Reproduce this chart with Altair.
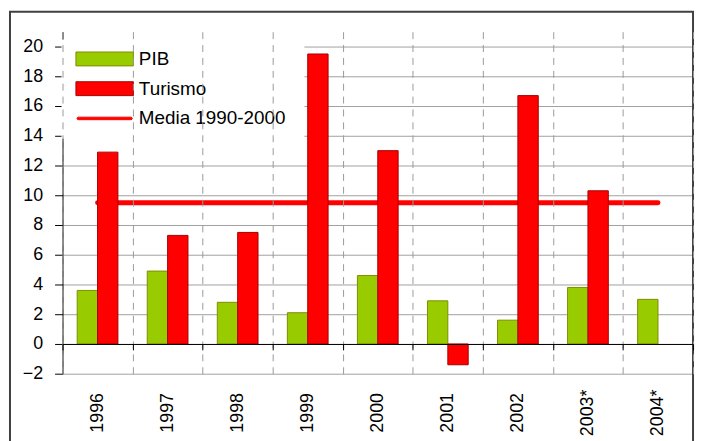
import altair as alt
import pandas as pd

years = ["1996", "1997", "1998", "1999", "2000", "2001", "2002", "2003*", "2004*"]
pib = [3.6, 4.9, 2.8, 2.1, 4.6, 2.9, 1.6, 3.8, 3.0]
turismo = [12.9, 7.3, 7.5, 19.5, 13.0, -1.4, 16.7, 10.3, None]
media = 9.5
series = ["PIB", "Turismo", "Media 1990-2000"]
fill_colors = ["#99CC00", "#FF0000", "#FF0000"]
border_colors = ["#7F8C00", "#A60000", "#FF0000"]
y_ticks = list(range(-2, 21, 2))

rows = []
for i, yr in enumerate(years):
    rows.append({"year": yr, "serie": series[0], "value": pib[i]})
    if turismo[i] is not None:
        rows.append({"year": yr, "serie": series[1], "value": turismo[i]})
bars_df = pd.DataFrame(rows)
line_df = pd.DataFrame({"year": years, "serie": series[2], "value": [media] * len(years)})

FONT = "Liberation Sans"

x_axis = alt.Axis(
    tickBand="extent", grid=True, gridColor="#9a9a9a", gridDash=[7, 6], gridWidth=1,
    domainColor="black", domainWidth=1, tickColor="black", tickSize=6, tickWidth=1,
    offset=-30, labelAngle=270, labelAlign="center", labelBaseline="middle",
    labelPadding=63, labelFontSize=18, labelFont=FONT, labelColor="black",
    labelOverlap=False, labelFlush=False, zindex=1,
)
y_axis = alt.Axis(
    values=y_ticks, grid=True, gridColor="#a0a0a0", gridWidth=1,
    domainColor="black", domainWidth=1, tickColor="black", tickSize=8, tickWidth=1,
    labelPadding=12, labelFontSize=18, labelFont=FONT, labelColor="black",
)

x_scale = alt.Scale(domain=years, paddingInner=0, paddingOuter=0)
y_scale = alt.Scale(domain=[-2, 21], nice=False, zero=False)

# legend symbol shapes: wide boxes for the bars, a rounded thick stroke for the mean line
box = "M-4.14,-1H4.14V1H-4.14Z"
pill = "M-3.8,-0.18H3.8A0.18,0.18 0 0 1 3.8,0.18H-3.8A0.18,0.18 0 0 1 -3.8,-0.18Z"
shapes = [box, box, pill]

# invisible title on the right only widens the white legend box
legend = alt.Legend(
    title="I", titleOrient="right", titleOpacity=0, titleFontSize=10, titlePadding=6,
    orient="none", legendX=-1, legendY=8, fillColor="white", padding=10,
    symbolSize=196, symbolOffset=24, labelOffset=25, rowPadding=10, symbolStrokeWidth=1,
    labelFontSize=19, labelFont=FONT, labelColor="black", labelLimit=400,
)

line = alt.Chart(line_df).mark_line(strokeWidth=5, strokeCap="round", color=fill_colors[2]).encode(
    x=alt.X("year:N", sort=years, title=None, scale=x_scale, axis=x_axis),
    y=alt.Y("value:Q", title=None, scale=y_scale, axis=y_axis),
)

is_pib = alt.datum.serie == series[0]
bars = alt.Chart(bars_df).mark_bar(strokeWidth=1).encode(
    x=alt.X("year:N", sort=years, title=None, scale=x_scale, axis=x_axis),
    xOffset=alt.XOffset("serie:N", scale=alt.Scale(domain=series[:2], paddingInner=0, paddingOuter=0.72)),
    y=alt.Y("value:Q", title=None, scale=y_scale, axis=y_axis),
    color=alt.condition(is_pib, alt.value(fill_colors[0]), alt.value(fill_colors[1])),
    stroke=alt.condition(is_pib, alt.value(border_colors[0]), alt.value(border_colors[1])),
)

# legend carrier: no rows, only scales for fill / stroke / shape
legend_layer = alt.Chart(alt.Data(values=[])).mark_point(filled=True, opacity=1, size=196, strokeWidth=1).encode(
    fill=alt.Fill("serie:N", scale=alt.Scale(domain=series, range=fill_colors), legend=legend),
    stroke=alt.Stroke("serie:N", scale=alt.Scale(domain=series, range=border_colors), legend=legend),
    shape=alt.Shape("serie:N", scale=alt.Scale(domain=series, range=shapes), legend=legend),
)

frame = alt.Chart(pd.DataFrame({"f": [0]})).mark_rect(fillOpacity=0, stroke="#404040", strokeWidth=2).encode(
    x=alt.value(-53), x2=alt.value(636), y=alt.value(-20), y2=alt.value(520)
)

chart = alt.layer(line, bars, legend_layer, frame).properties(
    width=636, height=345,
    padding={"left": 55, "top": 22, "right": 3, "bottom": 66},
    autosize=alt.AutoSizeParams(type="none"),
).configure_view(strokeWidth=0)

chart.save("out.html", embed_options={"renderer": "svg", "actions": False})
